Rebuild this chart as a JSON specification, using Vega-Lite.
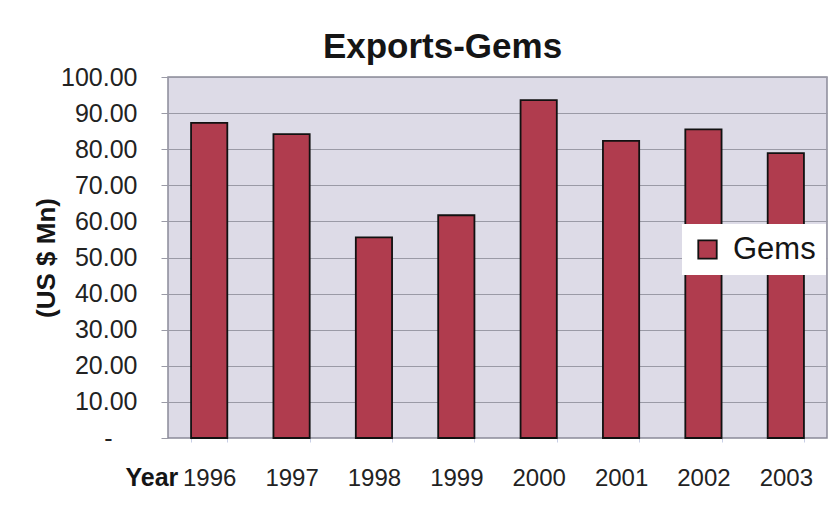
{
  "$schema": "https://vega.github.io/schema/vega-lite/v6.json",
  "autosize": {"type": "none"},
  "width": 659,
  "height": 361,
  "padding": {"left": 168, "top": 77, "right": 10, "bottom": 76},
  "background": "white",
  "title": {
    "text": "Exports-Gems",
    "font": "Liberation Sans",
    "fontSize": 35,
    "fontWeight": "bold",
    "color": "#151515",
    "anchor": "middle",
    "frame": "group",
    "dx": -55,
    "dy": 12,
    "offset": 12
  },
  "data": {
    "values": [
      {"year": "1996", "value": 87.3, "series": "Gems"},
      {"year": "1997", "value": 84.2, "series": "Gems"},
      {"year": "1998", "value": 55.6, "series": "Gems"},
      {"year": "1999", "value": 61.7, "series": "Gems"},
      {"year": "2000", "value": 93.6, "series": "Gems"},
      {"year": "2001", "value": 82.3, "series": "Gems"},
      {"year": "2002", "value": 85.5, "series": "Gems"},
      {"year": "2003", "value": 78.9, "series": "Gems"}
    ]
  },
  "layer": [
    {
      "mark": {"type": "bar", "stroke": "#111111", "strokeWidth": 1.8},
      "encoding": {
        "x": {
          "field": "year",
          "type": "ordinal",
          "scale": {"paddingInner": 0.56, "paddingOuter": 0.28},
          "axis": {
            "title": "Year",
            "titleFont": "Liberation Sans",
            "titleFontSize": 25,
            "titleFontWeight": "bold",
            "titleColor": "#151515",
            "titleAnchor": "start",
            "titleAlign": "left",
            "titleBaseline": "alphabetic",
            "titleX": -43,
            "titleY": 47,
            "labelAngle": 0,
            "labelFont": "Liberation Sans",
            "labelFontSize": 24,
            "labelColor": "#222222",
            "labelPadding": 24,
            "tickBand": "extent",
            "tickSize": 4,
            "tickColor": "#c8cfe6",
            "domain": false
          }
        },
        "y": {
          "field": "value",
          "type": "quantitative",
          "scale": {"domain": [0, 100]},
          "axis": {
            "orient": "left",
            "title": "(US $ Mn)",
            "titleFont": "Liberation Sans",
            "titleFontSize": 26,
            "titleFontWeight": "bold",
            "titleColor": "#151515",
            "titlePadding": 1,
            "values": [10, 20, 30, 40, 50, 60, 70, 80, 90, 100],
            "format": ".2f",
            "labelFont": "Liberation Sans",
            "labelFontSize": 25,
            "labelColor": "#222222",
            "labelPadding": 24,
            "tickSize": 7,
            "tickColor": "#9a9aa6",
            "gridColor": "#9a9aa6",
            "gridWidth": 1,
            "domain": false
          }
        },
        "color": {
          "field": "series",
          "type": "nominal",
          "scale": {"range": ["#b03c4e"]},
          "legend": {
            "title": null,
            "orient": "none",
            "legendX": 514,
            "legendY": 147,
            "fillColor": "white",
            "padding": 10,
            "symbolType": "square",
            "symbolSize": 340,
            "symbolStrokeColor": "#111111",
            "symbolStrokeWidth": 1.8,
            "symbolOpacity": 1,
            "labelFont": "Liberation Sans",
            "labelFontSize": 31,
            "labelColor": "#151515",
            "labelOffset": 10,
            "labelLimit": 200
          }
        }
      }
    },
    {
      "mark": {"type": "rule", "strokeOpacity": 0},
      "encoding": {
        "y": {
          "datum": 0,
          "type": "quantitative",
          "axis": {
            "orient": "left",
            "title": null,
            "values": [0],
            "labelExpr": "'-'",
            "labelFont": "Liberation Sans",
            "labelFontSize": 25,
            "labelColor": "#222222",
            "labelPadding": 49,
            "tickSize": 7,
            "tickColor": "#9a9aa6",
            "grid": false,
            "domain": false
          }
        }
      }
    }
  ],
  "resolve": {"axis": {"y": "independent"}},
  "config": {
    "view": {"fill": "#dddbe7", "stroke": "#8a8a99", "strokeWidth": 1.5}
  }
}
